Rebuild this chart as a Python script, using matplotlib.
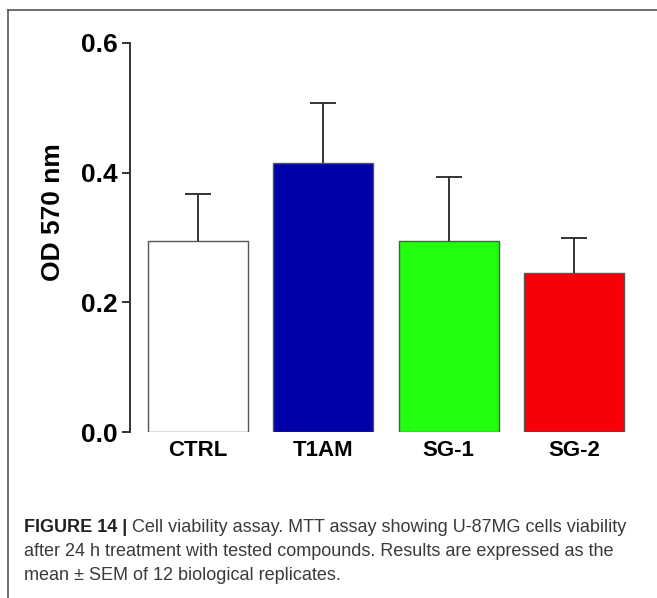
import matplotlib
matplotlib.use("Agg")
import matplotlib.pyplot as plt
from matplotlib.lines import Line2D

categories = ["CTRL", "T1AM", "SG-1", "SG-2"]
means = [0.295, 0.415, 0.295, 0.245]
sem = [0.072, 0.092, 0.099, 0.055]
colors = ["#FFFFFF", "#0000A8", "#22FF0E", "#F80008"]
yticks = [0.0, 0.2, 0.4, 0.6]
ytick_labels = ["0.0", "0.2", "0.4", "0.6"]
ylabel = "OD 570 nm"
caption_bold = "FIGURE 14 |"
caption_lines = [
    " Cell viability assay. MTT assay showing U-87MG cells viability",
    "after 24 h treatment with tested compounds. Results are expressed as the",
    "mean \u00b1 SEM of 12 biological replicates.",
]

W, H, DPI = 657, 598, 100
fig = plt.figure(figsize=(W / DPI, H / DPI), dpi=DPI)
plt.rcParams['font.family'] = ['Liberation Sans', 'DejaVu Sans']

ax = fig.add_axes([130 / W, (H - 432) / H, 512 / W, 389 / H])
x = list(range(len(categories)))
ax.bar(x, means, width=0.8, color=colors, edgecolor="#555555", linewidth=1.0, zorder=2)
eb = ax.errorbar(x, means, yerr=[[0] * len(sem), sem], fmt="none", ecolor="#333333",
                 elinewidth=1.4, capsize=9.5, capthick=1.4, zorder=1)
# keep only upper caps
eb[1][0].set_visible(False)
ax.set_xlim(-0.544, 3.544)
ax.set_ylim(0, 0.6)
ax.set_yticks(yticks)
ax.set_yticklabels(ytick_labels, fontsize=19, fontweight="bold")
ax.set_xticks(x)
ax.set_xticklabels(categories, fontsize=16, fontweight="bold")
ax.tick_params(axis="x", length=0, pad=6)
ax.tick_params(axis="y", length=6, width=1.4, color="#333333", pad=3)
for s in ["top", "right", "bottom"]:
    ax.spines[s].set_visible(False)
ax.spines["left"].set_linewidth(1.4)
ax.spines["left"].set_color("#333333")
ax.set_ylabel(ylabel, fontsize=19, fontweight="bold")
ax.yaxis.set_label_coords(-0.126, 0.566)

# frame border
fig.add_artist(Line2D([8 / W, 8 / W], [0, 1 - 10 / H], transform=fig.transFigure,
                      color="#555555", linewidth=1.2))
fig.add_artist(Line2D([8 / W, 1], [1 - 10 / H, 1 - 10 / H], transform=fig.transFigure,
                      color="#555555", linewidth=1.2))

# caption
fs = 13.0
x0 = 24 / W
t = fig.text(x0, 1 - 532 / H, caption_bold, fontsize=fs, fontweight="bold", va="baseline", color="#222222")
fig.canvas.draw()
bb = t.get_window_extent(renderer=fig.canvas.get_renderer())
fig.text(bb.x1 / W, 1 - 532 / H, caption_lines[0], fontsize=fs, va="baseline", color="#3a3a3a")
fig.text(x0, 1 - 556 / H, caption_lines[1], fontsize=fs, va="baseline", color="#3a3a3a")
fig.text(x0, 1 - 580 / H, caption_lines[2], fontsize=fs, va="baseline", color="#3a3a3a")

fig.savefig("out.png", dpi=DPI)
